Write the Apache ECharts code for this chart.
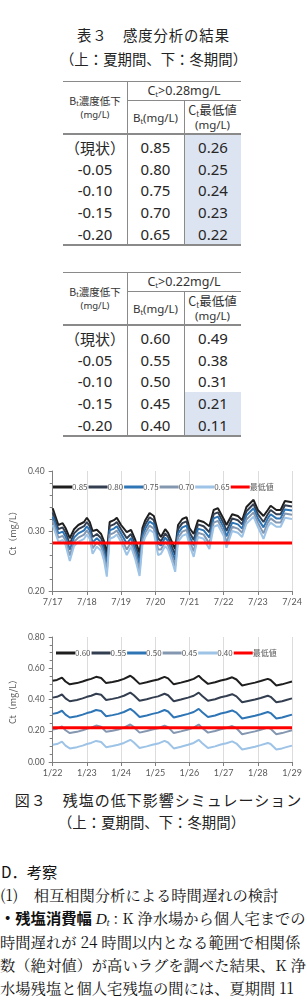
<!DOCTYPE html>
<html><head><meta charset="utf-8">
<script src="https://cdn.jsdelivr.net/npm/echarts@6/dist/echarts.min.js"></script>
<style>
html,body{margin:0;padding:0;background:#fff;width:307px;height:1005px;overflow:hidden;position:relative;font-family:"Noto Sans CJK JP","Noto Sans",sans-serif;color:#262626}
.t{position:absolute;white-space:nowrap;transform:translate(-50%,-50%);line-height:1}
.l{position:absolute;white-space:nowrap;transform:translate(0,-50%);line-height:1}
.ln{position:absolute;background:#8a8a8a}
.sh{position:absolute;background:#dde4f1}
sub{font-size:62%;vertical-align:-0.25em;line-height:0}
.num{font-family:"Noto Sans","Open Sans",sans-serif}
</style></head><body>
<div id="chart1" style="position:absolute;left:0;top:455px;width:307px;height:160px"></div>
<div id="chart2" style="position:absolute;left:0;top:625px;width:307px;height:160px"></div>
<script>
// ---------- table data ----------
const rowLabels = ['（現状）','-0.05','-0.10','-0.15','-0.20'];
const summerThreshold = 0.28;
const summerBt = ['0.85','0.80','0.75','0.70','0.65'];
const summerCtMin = ['0.26','0.25','0.24','0.23','0.22'];
const winterThreshold = 0.22;
const winterBt = ['0.60','0.55','0.50','0.45','0.40'];
const winterCtMin = ['0.49','0.38','0.31','0.21','0.11'];

// ---------- chart data ----------
const summerTicks = ['7/17','7/18','7/19','7/20','7/21','7/22','7/23','7/24'];
const winterTicks = ['1/22','1/23','1/24','1/25','1/26','1/27','1/28','1/29'];
const limitName = '最低値';
const summerNames = ['0.85','0.80','0.75','0.70','0.65'];
const winterNames = ['0.60','0.55','0.50','0.45','0.40'];

const summerHours = [0,4,7,9,12,15,18,22,24,26,28,31,34,36,38,40,43,45,48,52,55,58,61,63,65,68,71,74,76,79,81,84,86,88,91,94,96,99,102,106,110,113,116,120,122,126,130,133,136,141,144,148,151,153,157,160,163,168];
const summer085 = [0.338,0.310,0.313,0.305,0.288,0.303,0.310,0.315,0.322,0.315,0.300,0.302,0.295,0.283,0.262,0.315,0.318,0.322,0.310,0.298,0.302,0.285,0.263,0.305,0.318,0.330,0.325,0.298,0.290,0.303,0.297,0.280,0.270,0.310,0.320,0.323,0.305,0.295,0.318,0.315,0.308,0.335,0.338,0.320,0.310,0.328,0.325,0.318,0.340,0.352,0.335,0.325,0.335,0.342,0.335,0.335,0.350,0.348];
const summer080 = [0.331,0.303,0.306,0.298,0.278,0.296,0.303,0.308,0.315,0.308,0.290,0.295,0.288,0.275,0.252,0.308,0.311,0.315,0.303,0.288,0.295,0.277,0.253,0.298,0.311,0.323,0.318,0.288,0.283,0.296,0.290,0.272,0.260,0.303,0.313,0.316,0.298,0.285,0.311,0.308,0.298,0.328,0.331,0.313,0.300,0.321,0.318,0.311,0.333,0.345,0.328,0.315,0.328,0.335,0.328,0.328,0.343,0.341];
const summer075 = [0.324,0.296,0.299,0.291,0.269,0.289,0.296,0.301,0.308,0.301,0.281,0.288,0.281,0.267,0.243,0.301,0.304,0.308,0.296,0.279,0.288,0.269,0.244,0.291,0.304,0.316,0.311,0.279,0.276,0.289,0.283,0.264,0.251,0.296,0.306,0.309,0.291,0.276,0.304,0.301,0.289,0.321,0.324,0.306,0.291,0.314,0.311,0.304,0.326,0.338,0.321,0.306,0.321,0.328,0.321,0.321,0.336,0.334];
const summer070 = [0.317,0.289,0.292,0.284,0.259,0.282,0.289,0.294,0.301,0.294,0.271,0.281,0.274,0.259,0.233,0.294,0.297,0.301,0.289,0.269,0.281,0.261,0.234,0.284,0.297,0.309,0.304,0.269,0.269,0.282,0.276,0.256,0.241,0.289,0.299,0.302,0.284,0.266,0.297,0.294,0.279,0.314,0.317,0.299,0.281,0.307,0.304,0.297,0.319,0.331,0.314,0.296,0.314,0.321,0.314,0.314,0.329,0.327];
const summer065 = [0.310,0.282,0.285,0.277,0.250,0.275,0.282,0.287,0.294,0.287,0.262,0.274,0.267,0.251,0.224,0.287,0.290,0.294,0.282,0.260,0.274,0.253,0.225,0.277,0.290,0.302,0.297,0.260,0.262,0.275,0.269,0.248,0.232,0.282,0.292,0.295,0.277,0.257,0.290,0.287,0.270,0.307,0.310,0.292,0.272,0.300,0.297,0.290,0.312,0.324,0.307,0.287,0.307,0.314,0.307,0.307,0.322,0.320];

const winterHours = [0,3,6.5,9,12,17,21,24,27,30.5,34,37.5,42,46,50,54.5,57,61,66,70,74,78.5,81,85,90,95,99,102.5,105,109,114,118,122,126,129,133,138,142,146,151,153,157,161,164,168];
const winter060 = [0.520,0.525,0.540,0.515,0.497,0.505,0.515,0.525,0.532,0.545,0.538,0.505,0.512,0.520,0.532,0.552,0.535,0.500,0.510,0.520,0.528,0.545,0.535,0.497,0.508,0.520,0.532,0.552,0.530,0.500,0.510,0.522,0.530,0.542,0.528,0.490,0.500,0.508,0.518,0.532,0.525,0.490,0.497,0.505,0.515];
const winter055 = [0.412,0.417,0.432,0.407,0.389,0.397,0.407,0.417,0.424,0.437,0.430,0.397,0.404,0.412,0.424,0.444,0.427,0.392,0.402,0.412,0.420,0.437,0.427,0.389,0.400,0.412,0.424,0.444,0.422,0.392,0.402,0.414,0.422,0.434,0.420,0.382,0.392,0.400,0.410,0.424,0.417,0.382,0.389,0.397,0.407];
const winter050 = [0.308,0.313,0.328,0.303,0.285,0.293,0.303,0.313,0.320,0.333,0.326,0.293,0.300,0.308,0.320,0.340,0.323,0.288,0.298,0.308,0.316,0.333,0.323,0.285,0.296,0.308,0.320,0.340,0.318,0.288,0.298,0.310,0.318,0.330,0.316,0.278,0.288,0.296,0.306,0.320,0.313,0.278,0.285,0.293,0.303];
const winter045 = [0.208,0.213,0.228,0.203,0.185,0.193,0.203,0.213,0.220,0.233,0.226,0.193,0.200,0.208,0.220,0.240,0.223,0.188,0.198,0.208,0.216,0.233,0.223,0.185,0.196,0.208,0.220,0.240,0.218,0.188,0.198,0.210,0.218,0.230,0.216,0.178,0.188,0.196,0.206,0.220,0.213,0.178,0.185,0.193,0.203];
const winter040 = [0.110,0.115,0.130,0.105,0.087,0.095,0.105,0.115,0.122,0.135,0.128,0.095,0.102,0.110,0.122,0.142,0.125,0.090,0.100,0.110,0.118,0.135,0.125,0.087,0.098,0.110,0.122,0.142,0.120,0.090,0.100,0.112,0.120,0.132,0.118,0.080,0.090,0.098,0.108,0.122,0.115,0.080,0.087,0.095,0.105];

const lineColors = ['#1e1e1e','#333f50','#2e75b6','#8497b0','#9dc3e6'];
const limitColor = '#ff0000';

// ---------- html helpers ----------
function put(html, x, y, size, extra, cls){
  const d=document.createElement('div'); d.className=cls||'t';
  d.style.cssText='left:'+x+'px;top:'+y+'px;font-size:'+size+'px;'+(extra||'');
  d.innerHTML=html; document.body.appendChild(d); return d;
}
function box(cls,x,y,w,h){
  const d=document.createElement('div'); d.className=cls;
  d.style.cssText='left:'+x+'px;top:'+y+'px;width:'+w+'px;height:'+h+'px';
  document.body.appendChild(d);
}

// ---------- title ----------
put('表３　感度分析の結果',153.5,35,14.4,'letter-spacing:0.9px;color:#222');
put('（上：夏期間、下：冬期間）',153.5,59,14.4,'color:#222');

// ---------- tables ----------
const L=63, C1=127, C2=184, R=241;
function buildTable(top, threshold, btArr, ctArr){
  const mid=top+19, hb=top+52, rowH=21.8, first=hb+13.8, bottom=hb+111;
  // shading: one continuous block per run of values below the threshold
  let runStart=-1;
  ctArr.forEach((v,i)=>{
    const below = parseFloat(v) < threshold;
    if(below && runStart<0) runStart=i;
    const endRun = runStart>=0 && (!below || i===ctArr.length-1);
    if(endRun){
      const last = below ? i : i-1;
      const y0 = Math.round(runStart===0 ? hb+1 : first+(runStart-0.5)*rowH);
      const y1 = Math.round(last===ctArr.length-1 ? bottom : first+(last+0.5)*rowH);
      box('sh',C2+1,y0,R-C2-1,y1-y0);
      runStart=-1;
    }
  });
  box('ln',L,top,R-L,1);
  box('ln',C1,mid,R-C1,1);
  box('ln',L,hb,R-L,1.5);
  box('ln',L,bottom,R-L,1.5);
  box('ln',C1,top,1,bottom-top);
  box('ln',C2,mid,1,bottom-mid);
  put('C<sub>t</sub>&gt;'+threshold.toFixed(2)+'mg/L',(C1+R)/2,top+9.5,12.5,'color:#333','t num');
  put('B<sub>t</sub>濃度低下',(L+C1)/2,top+20,10.5,'color:#333');
  put('(mg/L)',(L+C1)/2,top+34,9.5,'color:#333','t num');
  put('B<sub>t</sub>(mg/L)',(C1+C2)/2,(mid+hb)/2+1,11.5,'color:#333','t num');
  put('C<sub>t</sub>最低値',(C2+R)/2,mid+10,12.5,'color:#333');
  put('(mg/L)',(C2+R)/2,mid+25,11.5,'color:#333','t num');
  rowLabels.forEach((lab,i)=>{
    const y=first+i*rowH;
    put(lab,(L+C1)/2,y,15,'',i===0?'t':'t num');
    put(btArr[i],(C1+C2)/2,y,15,'','t num');
    put(ctArr[i],(C2+R)/2+0.5,y,15,'','t num');
  });
}
buildTable(81, summerThreshold, summerBt, summerCtMin);
buildTable(272, winterThreshold, winterBt, winterCtMin);

// ---------- caption & body text ----------
put('図３　残塩の低下影響シミュレーション',158.5,799,15,'letter-spacing:1px;color:#222');
put('（上：夏期間、下：冬期間）',151.5,822,14.4,'color:#222');

const serif='font-family:"Noto Serif CJK JP","Noto Sans CJK JP",serif;color:#111;';
put('D．考察',1,872,15.3,'color:#111','l');
put('(1)　相互相関分析による時間遅れの検討',0,895,15.3,serif,'l');
put('<b style="font-family:Noto Sans CJK JP">・残塩消費幅</b> <i style="font-family:\'Liberation Serif\',serif">D<sub>t</sub></i> : K 浄水場から個人宅までの',0,918,15.3,serif,'l');
put('時間遅れが 24 時間以内となる範囲で相関係',0,942,15.3,serif,'l');
put('数（絶対値）が高いラグを調べた結果、K 浄',0,965,15.3,serif,'l');
put('水場残塩と個人宅残塩の間には、夏期間 11',0,988,15.3,serif,'l');

// ---------- charts ----------
function pairs(hours, vals){ return hours.map((h,i)=>[h,vals[i]]); }
function makeOption(opts){
  const series = opts.values.map((vals,i)=>({
    name: opts.names[i], type:'line', symbol:'none', smooth:false,
    data: pairs(opts.hours, vals),
    lineStyle:{width:2,color:lineColors[i]}, itemStyle:{color:lineColors[i]}
  }));
  series.push({
    name: limitName, type:'line', symbol:'none',
    data: [[0,opts.limit],[168,opts.limit]],
    lineStyle:{width:3,color:limitColor}, itemStyle:{color:limitColor}
  });
  return {
    animation:false, backgroundColor:'#fff',
    grid:{left:opts.left,right:15,top:opts.top,bottom:opts.bottom},
    legend:{
      left:opts.legendLeft, top:opts.legendTop, itemWidth:19, itemHeight:3, itemGap:1,
      icon:'rect',
      textStyle:{fontSize:8,color:'#595959',fontFamily:'Noto Sans CJK JP',padding:[0,0,0,-5]},
      data: opts.names.concat([limitName]).map((n)=>({name:n}))
    },
    xAxis:{
      type:'value', min:0, max:168, interval:24,
      axisLine:{lineStyle:{color:'#7f7f7f',width:1}},
      axisTick:{show:true,length:4,lineStyle:{color:'#7f7f7f'}},
      splitLine:{show:true,lineStyle:{color:'#dcdcdc',width:1}},
      axisLabel:{color:'#595959',fontSize:9,fontFamily:'Lato',margin:7,
        formatter:v=>opts.ticks[Math.round(v/24)]}
    },
    yAxis:{
      type:'value', min:opts.ymin, max:opts.ymax, interval:opts.yint,
      name:'Ct（mg/L）', nameLocation:'middle', nameGap:opts.nameGap, nameRotate:90,
      nameTextStyle:{fontSize:9,color:'#595959',fontFamily:'Noto Sans CJK JP'},
      axisLine:{show:true,lineStyle:{color:'#7f7f7f',width:1}},
      axisTick:{show:true,length:4,lineStyle:{color:'#7f7f7f'}},
      minorTick:{show:true,splitNumber:opts.minor,length:3,lineStyle:{color:'#7f7f7f'}},
      splitLine:{show:false},
      axisLabel:{color:'#595959',fontSize:8.5,fontFamily:'Lato',margin:8,
        formatter:v=>v.toFixed(2)}
    },
    series
  };
}
const c1 = echarts.init(document.getElementById('chart1'),null,{renderer:'canvas'});
c1.setOption(makeOption({
  hours:summerHours, values:[summer085,summer080,summer075,summer070,summer065],
  names:summerNames, limit:summerThreshold, ticks:summerTicks,
  left:41, top:16, bottom:24, legendLeft:48, legendTop:23,
  ymin:0.2, ymax:0.4, yint:0.1, minor:5, nameGap:27
}));
const c2 = echarts.init(document.getElementById('chart2'),null,{renderer:'canvas'});
c2.setOption(makeOption({
  hours:winterHours, values:[winter060,winter055,winter050,winter045,winter040],
  names:winterNames, limit:winterThreshold, ticks:winterTicks,
  left:43, top:12, bottom:23, legendLeft:51, legendTop:19,
  ymin:0, ymax:0.8, yint:0.2, minor:4, nameGap:28
}));
</script>
</body></html>
